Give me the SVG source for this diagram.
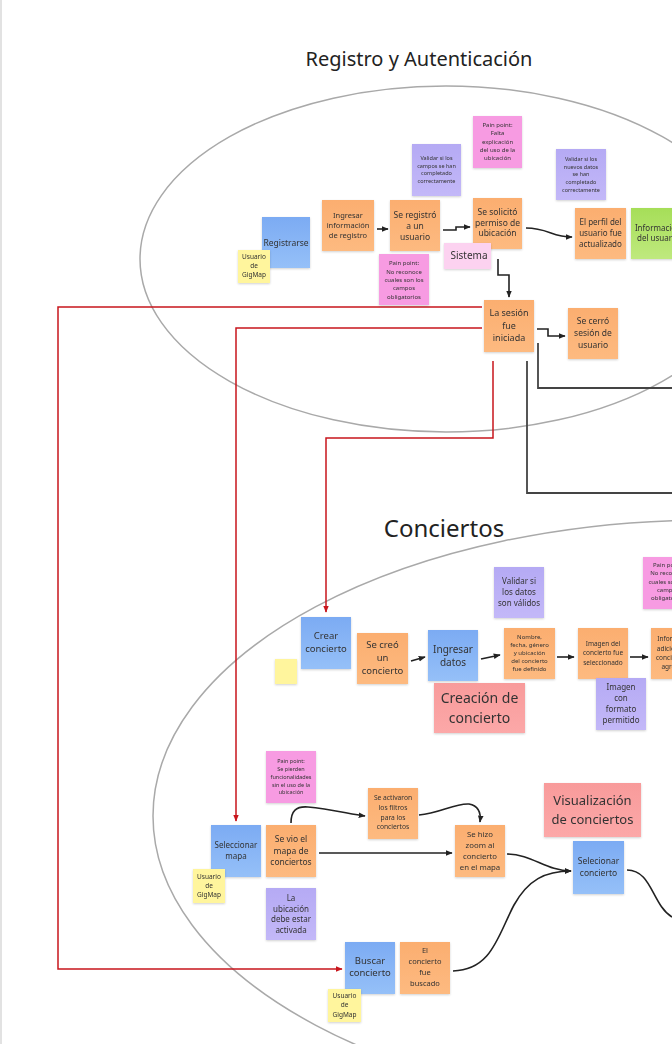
<svg xmlns="http://www.w3.org/2000/svg" width="672" height="1044" viewBox="0 0 672 1044">
<style>
text{font-family:"Noto Sans","Open Sans","DejaVu Sans",sans-serif;fill:#333;text-anchor:middle}
.title{fill:#222}
.blue{fill:url(#gBlue)}
.org{fill:url(#gOrg)}
.pur{fill:url(#gPur)}
.pink{fill:#f79be2}
.lpink{fill:#fcd2f0}
.yel{fill:#fff59d}
.grn{fill:url(#gGrn)}
.sal{fill:url(#gSal)}
.note{filter:url(#sh)}
.ell{fill:none;stroke:#a9a9a9;stroke-width:1.5}
.blk{fill:none;stroke:#222;stroke-width:1.6}
.dk{fill:none;stroke:#444;stroke-width:1.8}
.red{fill:none;stroke:#c8161d;stroke-width:1.5}
</style>
<defs>
<linearGradient id="gBlue" x1="0" y1="0" x2="0" y2="1"><stop offset="0" stop-color="#7cabf3"/><stop offset="1" stop-color="#95c0f8"/></linearGradient>
<linearGradient id="gOrg" x1="0" y1="0" x2="0" y2="1"><stop offset="0" stop-color="#fbae70"/><stop offset="1" stop-color="#fdba80"/></linearGradient>
<linearGradient id="gPur" x1="0" y1="0" x2="0" y2="1"><stop offset="0" stop-color="#b5aaf4"/><stop offset="1" stop-color="#c3b8f8"/></linearGradient>
<linearGradient id="gGrn" x1="0" y1="0" x2="0" y2="1"><stop offset="0" stop-color="#a6de58"/><stop offset="1" stop-color="#bfe97e"/></linearGradient>
<linearGradient id="gSal" x1="0" y1="0" x2="0" y2="1"><stop offset="0" stop-color="#f89b9b"/><stop offset="1" stop-color="#fca8a8"/></linearGradient>
<filter id="sh" x="-10%" y="-10%" width="130%" height="130%"><feDropShadow dx="0" dy="1" stdDeviation="0.8" flood-color="#000" flood-opacity="0.18"/></filter>
<marker id="ah" viewBox="0 0 10 10" refX="9" refY="5" markerWidth="7" markerHeight="7" markerUnits="userSpaceOnUse" orient="auto"><path d="M0,1 L10,5 L0,9 z" fill="#222"/></marker>
<marker id="ahr" viewBox="0 0 10 10" refX="9" refY="5" markerWidth="7" markerHeight="7" markerUnits="userSpaceOnUse" orient="auto"><path d="M0,1 L10,5 L0,9 z" fill="#c8161d"/></marker>
</defs>
<rect x="0" y="0" width="672" height="1044" fill="#fff"/>
<line x1="1" y1="0" x2="1" y2="1044" stroke="#e2e2e2" stroke-width="2"/>

<g id="sections">
<ellipse class="ell" cx="446" cy="259" rx="306" ry="173"/>
<ellipse class="ell" cx="709" cy="816" rx="556" ry="296"/>
<text class="title" x="419" y="66" font-size="20">Registro y Autenticación</text>
<text class="title" x="444" y="537" font-size="24">Conciertos</text>
</g>

<g id="connectors">
<path class="red" d="M482,307 H58 V969 H342" marker-end="url(#ahr)"/>
<path class="red" d="M482,328 H236 V821" marker-end="url(#ahr)"/>
<path class="red" d="M493,361 V438 H326 V612" marker-end="url(#ahr)"/>
<path class="dk" d="M538,343 V388 H672"/>
<path class="dk" d="M527,361 V493 H672"/>
<path class="blk" d="M377,229 H388" marker-end="url(#ah)"/>
<path class="blk" d="M443,230 H456 V227 H470" marker-end="url(#ah)"/>
<path class="blk" d="M526,228 C548,228 552,237 572,237" marker-end="url(#ah)"/>
<path class="blk" d="M498,259 V275 H509 V297" marker-end="url(#ah)"/>
<path class="blk" d="M537,329 H548 V336 H565" marker-end="url(#ah)"/>
<path class="blk" d="M411,661 L425,657" marker-end="url(#ah)"/>
<path class="blk" d="M481,659 L500,655" marker-end="url(#ah)"/>
<path class="blk" d="M557,657 H574" marker-end="url(#ah)"/>
<path class="blk" d="M630,657 H648" marker-end="url(#ah)"/>
<path class="blk" d="M291,823 C291,811 296,806 308,807 C330,809 350,814 365,816" marker-end="url(#ah)"/>
<path class="blk" d="M319,853 H452" marker-end="url(#ah)"/>
<path class="blk" d="M419,815 C440,813 455,803 469,804 C480,806 481,814 480,822" marker-end="url(#ah)"/>
<path class="blk" d="M507,854 C532,854 546,871 571,871" marker-end="url(#ah)"/>
<path class="blk" d="M453,971 C492,970 498,935 514,905 C528,880 545,871 571,871" marker-end="url(#ah)"/>
<path class="blk" d="M627,870 C652,870 652,905 672,917"/>
</g>

<g id="reg-registrarse" class="note"><rect class="blue" x="262" y="217" width="48" height="51"/><text x="286" y="245.7" font-size="8.5">Registrarse</text></g>
<g id="reg-usuario" class="note"><rect class="yel" x="238" y="250" width="32" height="33"/><text font-size="6.5"><tspan x="254" y="258.8">Usuario</tspan><tspan x="254" y="268.1">de</tspan><tspan x="254" y="277.1">GigMap</tspan></text></g>
<g id="reg-ingresar" class="note"><rect class="org" x="322" y="200" width="52" height="51"/><text font-size="7.5"><tspan x="348" y="218.4">Ingresar</tspan><tspan x="348" y="228.4">información</tspan><tspan x="348" y="238.4">de registro</tspan></text></g>
<g id="reg-seregistro" class="note"><rect class="org" x="390" y="200" width="50" height="51"/><text font-size="8.5"><tspan x="415" y="217.7">Se registró</tspan><tspan x="415" y="228.7">a un</tspan><tspan x="415" y="239.7">usuario</tspan></text></g>
<g id="reg-validar" class="note"><rect class="pur" x="412" y="144" width="49" height="52"/><text font-size="5.5"><tspan x="436.5" y="159.8">Validar si los</tspan><tspan x="436.5" y="167.5">campos se han</tspan><tspan x="436.5" y="175.1">completado</tspan><tspan x="436.5" y="183.1">correctamente</tspan></text></g>
<g id="reg-pain-campos" class="note"><rect class="pink" x="379" y="254" width="50" height="51"/><text font-size="6"><tspan x="404" y="265.2">Pain point:</tspan><tspan x="404" y="273.6">No reconoce</tspan><tspan x="404" y="281.9">cuales son los</tspan><tspan x="404" y="290.2">campos</tspan><tspan x="404" y="298.6">obligatorios</tspan></text></g>
<g id="reg-solicito" class="note"><rect class="org" x="473" y="198" width="49" height="51"/><text font-size="8.5"><tspan x="497.5" y="214.7">Se solicitó</tspan><tspan x="497.5" y="225.5">permiso de</tspan><tspan x="497.5" y="236.3">ubicación</tspan></text></g>
<g id="reg-pain-ubicacion" class="note"><rect class="pink" x="473" y="116" width="49" height="52"/><text font-size="6"><tspan x="497.5" y="126.9">Pain point:</tspan><tspan x="497.5" y="135.2">Falta</tspan><tspan x="497.5" y="143.6">explicación</tspan><tspan x="497.5" y="151.9">del uso de la</tspan><tspan x="497.5" y="160.2">ubicación</tspan></text></g>
<g id="reg-sistema" class="note"><rect class="lpink" x="444" y="243" width="47" height="26"/><text x="469" y="258.9" font-size="10">Sistema</text></g>
<g id="reg-validar-nuevos" class="note"><rect class="pur" x="556" y="149" width="50" height="51"/><text font-size="5.5"><tspan x="581" y="160.8">Validar si los</tspan><tspan x="581" y="168.5">nuevos datos</tspan><tspan x="581" y="176.1">se han</tspan><tspan x="581" y="183.8">completado</tspan><tspan x="581" y="191.5">correctamente</tspan></text></g>
<g id="reg-perfil" class="note"><rect class="org" x="575" y="208" width="51" height="51"/><text font-size="8"><tspan x="600.5" y="225.3">El perfil del</tspan><tspan x="600.5" y="235.9">usuario fue</tspan><tspan x="600.5" y="246.6">actualizado</tspan></text></g>
<g id="reg-informacion" class="note"><rect class="grn" x="631" y="208" width="54" height="51"/><text font-size="8"><tspan x="658" y="230.9">Información</tspan><tspan x="658" y="240.9">del usuario</tspan></text></g>
<g id="reg-sesion" class="note"><rect class="org" x="484" y="300" width="50" height="52"/><text font-size="9"><tspan x="509" y="315.6">La sesión</tspan><tspan x="509" y="328.6">fue</tspan><tspan x="509" y="341.2">iniciada</tspan></text></g>
<g id="reg-cerro" class="note"><rect class="org" x="568" y="308" width="50" height="51"/><text font-size="8.5"><tspan x="593" y="323.7">Se cerró</tspan><tspan x="593" y="336">sesión de</tspan><tspan x="593" y="348">usuario</tspan></text></g>

<g id="con-crear" class="note"><rect class="blue" x="301" y="617" width="50" height="52"/><text font-size="9.5"><tspan x="326" y="639">Crear</tspan><tspan x="326" y="652.3">concierto</tspan></text></g>
<g id="con-amarillo" class="note"><rect class="yel" x="275" y="659" width="22" height="25"/></g>
<g id="con-secreo" class="note"><rect class="org" x="357" y="633" width="51" height="51"/><text font-size="9.5"><tspan x="382.5" y="648">Se creó</tspan><tspan x="382.5" y="661.3">un</tspan><tspan x="382.5" y="674">concierto</tspan></text></g>
<g id="con-ingresar" class="note"><rect class="blue" x="428" y="630" width="50" height="51"/><text font-size="10"><tspan x="453" y="652.5">Ingresar</tspan><tspan x="453" y="665.5">datos</tspan></text></g>
<g id="con-creacion" class="note"><rect class="sal" x="434" y="683" width="91" height="50"/><text font-size="14"><tspan x="479.5" y="702.8">Creación de</tspan><tspan x="479.5" y="722.9">concierto</tspan></text></g>
<g id="con-validar" class="note"><rect class="pur" x="494" y="567" width="50" height="51"/><text font-size="8"><tspan x="519" y="584.3">Validar si</tspan><tspan x="519" y="594.9">los datos</tspan><tspan x="519" y="605.9">son válidos</tspan></text></g>
<g id="con-nombre" class="note"><rect class="org" x="504" y="628" width="51" height="51"/><text font-size="6"><tspan x="529.5" y="638.6">Nombre,</tspan><tspan x="529.5" y="646.6">fecha, género</tspan><tspan x="529.5" y="654.6">y ubicación</tspan><tspan x="529.5" y="663.2">del concierto</tspan><tspan x="529.5" y="671.2">fue definido</tspan></text></g>
<g id="con-imagen" class="note"><rect class="org" x="578" y="628" width="50" height="51"/><text font-size="6.5"><tspan x="603" y="646.1">Imagen del</tspan><tspan x="603" y="655.4">concierto fue</tspan><tspan x="603" y="664.8">seleccionado</tspan></text></g>
<g id="con-formato" class="note"><rect class="pur" x="596" y="678" width="50" height="52"/><text font-size="8"><tspan x="621" y="689.9">Imagen</tspan><tspan x="621" y="700.9">con</tspan><tspan x="621" y="711.9">formato</tspan><tspan x="621" y="722.6">permitido</tspan></text></g>
<g id="con-info" class="note"><rect class="org" x="651" y="628" width="50" height="51"/><text font-size="6.5"><tspan x="676" y="641.4">Información</tspan><tspan x="676" y="650.8">adicional del</tspan><tspan x="676" y="660.1">concierto fue</tspan><tspan x="676" y="669.4">agregada</tspan></text></g>
<g id="con-pain-campos" class="note"><rect class="pink" x="643" y="557" width="50" height="52"/><text font-size="6"><tspan x="668" y="566.9">Pain point:</tspan><tspan x="668" y="575.2">No reconoce</tspan><tspan x="668" y="583.6">cuales son los</tspan><tspan x="668" y="591.9">campos</tspan><tspan x="668" y="600.2">obligatorios</tspan></text></g>
<g id="con-pain-ubicacion" class="note"><rect class="pink" x="266" y="751" width="50" height="52"/><text font-size="5.5"><tspan x="291" y="762.8">Pain point:</tspan><tspan x="291" y="770.8">Se pierden</tspan><tspan x="291" y="778.8">funcionalidades</tspan><tspan x="291" y="786.5">sin el uso de la</tspan><tspan x="291" y="794.1">ubicación</tspan></text></g>
<g id="con-selmapa" class="note"><rect class="blue" x="211" y="825" width="50" height="52"/><text font-size="8"><tspan x="236" y="847.6">Seleccionar</tspan><tspan x="236" y="858.6">mapa</tspan></text></g>
<g id="con-usuario-mapa" class="note"><rect class="yel" x="193" y="869" width="32" height="34"/><text font-size="6.5"><tspan x="209" y="878.8">Usuario</tspan><tspan x="209" y="887.9">de</tspan><tspan x="209" y="896.9">GigMap</tspan></text></g>
<g id="con-sevio" class="note"><rect class="org" x="266" y="825" width="50" height="52"/><text font-size="8.5"><tspan x="291" y="842">Se vio el</tspan><tspan x="291" y="853.7">mapa de</tspan><tspan x="291" y="865">conciertos</tspan></text></g>
<g id="con-ubicacion" class="note"><rect class="pur" x="266" y="888" width="50" height="52"/><text font-size="8"><tspan x="291" y="900.9">La</tspan><tspan x="291" y="911.6">ubicación</tspan><tspan x="291" y="921.9">debe estar</tspan><tspan x="291" y="932.6">activada</tspan></text></g>
<g id="con-filtros" class="note"><rect class="org" x="368" y="788" width="50" height="51"/><text font-size="6.7"><tspan x="393" y="800.4">Se activaron</tspan><tspan x="393" y="810.1">los filtros</tspan><tspan x="393" y="819.8">para los</tspan><tspan x="393" y="829.4">conciertos</tspan></text></g>
<g id="con-zoom" class="note"><rect class="org" x="455" y="825" width="50" height="52"/><text font-size="7.8"><tspan x="480" y="836.5">Se hizo</tspan><tspan x="480" y="847.5">zoom al</tspan><tspan x="480" y="858.5">concierto</tspan><tspan x="480" y="869.8">en el mapa</tspan></text></g>
<g id="con-visualizacion" class="note"><rect class="sal" x="544" y="783" width="97" height="54"/><text font-size="13"><tspan x="592.5" y="804.9">Visualización</tspan><tspan x="592.5" y="823.5">de conciertos</tspan></text></g>
<g id="con-selconcierto" class="note"><rect class="blue" x="573" y="841" width="51" height="53"/><text font-size="8.5"><tspan x="598.5" y="864.4">Selecionar</tspan><tspan x="598.5" y="875.7">concierto</tspan></text></g>
<g id="con-buscar" class="note"><rect class="blue" x="345" y="942" width="50" height="52"/><text font-size="9.5"><tspan x="370" y="963.7">Buscar</tspan><tspan x="370" y="976.3">concierto</tspan></text></g>
<g id="con-usuario-buscar" class="note"><rect class="yel" x="328" y="989" width="33" height="33"/><text font-size="6.5"><tspan x="344.5" y="998.1">Usuario</tspan><tspan x="344.5" y="1007.4">de</tspan><tspan x="344.5" y="1016.8">GigMap</tspan></text></g>
<g id="con-buscado" class="note"><rect class="org" x="400" y="942" width="50" height="52"/><text font-size="7.5"><tspan x="425" y="953.4">El</tspan><tspan x="425" y="964.4">concierto</tspan><tspan x="425" y="975.1">fue</tspan><tspan x="425" y="985.7">buscado</tspan></text></g>
</svg>
